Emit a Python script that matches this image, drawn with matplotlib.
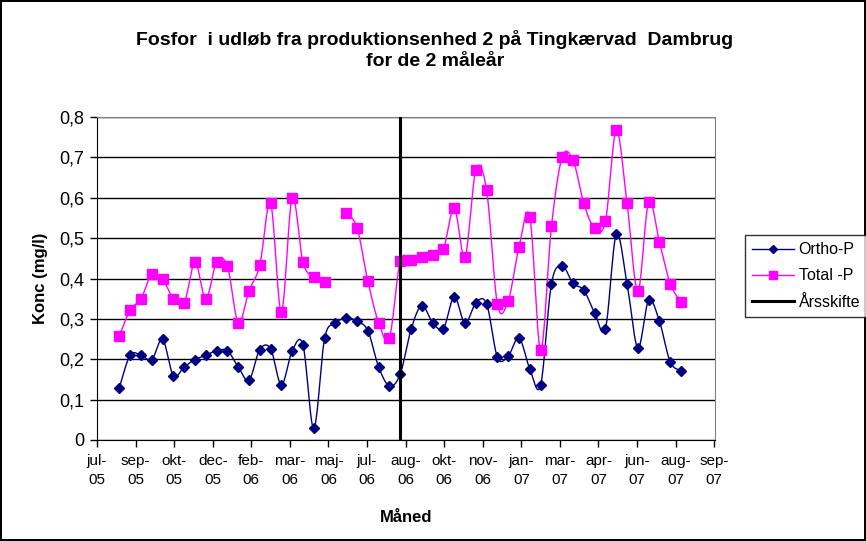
import numpy as np
import pandas as pd
import matplotlib
matplotlib.use('Agg')
import matplotlib.pyplot as plt
import matplotlib.dates as mdates
from matplotlib import font_manager

names = {f.name for f in font_manager.fontManager.ttflist}
narrow = 'Liberation Sans Narrow' if 'Liberation Sans Narrow' in names else 'Liberation Sans'
plt.rcParams['font.family'] = ['Liberation Sans', 'DejaVu Sans']

# prøvetagning hver 14. dag
datoer = pd.date_range('2005-08-15', periods=53, freq='14D')

ortho_p = [0.130, 0.210, 0.210, 0.199, 0.249, 0.159, 0.181, 0.199, 0.210, 0.221,
           0.221, 0.181, 0.148, 0.224, 0.226, 0.137, 0.221, 0.235, 0.029, 0.252,
           0.289, 0.303, 0.294, 0.271, 0.181, 0.134, 0.163,
           0.274, 0.333, 0.291, 0.276, 0.355, 0.289, 0.340, 0.337, 0.205,
           0.208, 0.253, 0.176, 0.136, 0.387, 0.431, 0.388, 0.371, 0.315,
           0.276, 0.509, 0.387, 0.228, 0.346, 0.294, 0.193, 0.172]

total_p = [0.258, 0.322, 0.350, 0.410, 0.398, 0.350, 0.339, 0.440, 0.350, 0.440,
           0.431, 0.291, 0.369, 0.433, 0.586, 0.318, 0.600, 0.440, 0.404, 0.392,
           np.nan, 0.562, 0.526, 0.394, 0.291, 0.253, 0.443,
           0.446, 0.454, 0.458, 0.473, 0.574, 0.454, 0.669, 0.618, 0.336,
           0.345, 0.478, 0.553, 0.223, 0.529, 0.701, 0.693, 0.586, 0.524,
           0.542, 0.767, 0.586, 0.369, 0.590, 0.490, 0.387, 0.342]

aarsskifte = pd.Timestamp('2006-08-14')
x_start = pd.Timestamp('2005-07-17')
x_slut = pd.Timestamp('2007-09-26')
maaneder = ['jan', 'feb', 'mar', 'apr', 'maj', 'jun', 'jul', 'aug', 'sep', 'okt', 'nov', 'dec']


def smooth(x, y, n=20):
    # Excel-agtig udglatning (Catmull-Rom / Bezier)
    x = np.asarray(x, float); y = np.asarray(y, float)
    ok = ~np.isnan(y)
    segs = []
    idx = np.where(ok)[0]
    if len(idx) == 0:
        return segs
    brk = np.where(np.diff(idx) > 1)[0]
    for part in np.split(idx, brk + 1):
        px, py = x[part], y[part]
        if len(px) < 2:
            segs.append((px, py)); continue
        P = np.column_stack([px, py])
        Pp = np.vstack([P[0], P, P[-1]])
        out = [P[0]]
        t = np.linspace(0, 1, n)[1:, None]
        for i in range(len(P) - 1):
            p0, p1, p2, p3 = Pp[i], Pp[i + 1], Pp[i + 2], Pp[i + 3]
            c1 = p1 + (p2 - p0) / 6
            c2 = p2 - (p3 - p1) / 6
            b = ((1 - t) ** 3) * p1 + 3 * ((1 - t) ** 2) * t * c1 + 3 * (1 - t) * t ** 2 * c2 + t ** 3 * p2
            out.extend(b)
        out = np.array(out)
        segs.append((out[:, 0], out[:, 1]))
    return segs


fig = plt.figure(figsize=(8.66, 5.41), dpi=100, linewidth=1.5, edgecolor='black')
ax = fig.add_axes([97 / 866, 1 - 440 / 541, 618 / 866, 323 / 541])

xn = mdates.date2num(datoer)

for serie, farve, mk, ms, navn in [(ortho_p, '#000080', 'D', 5, 'Ortho-P'),
                                   (total_p, '#FF00FF', 's', 6.5, 'Total -P')]:
    for sx, sy in smooth(xn, serie):
        ax.plot(sx, sy, color=farve, lw=1.0, zorder=3)
    ax.plot(xn, serie, ls='none', marker=mk, ms=ms, color=farve, zorder=4)
    ax.plot([], [], color=farve, lw=1.0, marker=mk, ms=ms - 1, label=navn)

xa = mdates.date2num(aarsskifte)
ax.plot([xa, xa], [0, 0.8], color='black', lw=2.2, zorder=5, label='Årsskifte')

x0 = mdates.date2num(x_start)
x1 = mdates.date2num(x_slut)
ax.set_xlim(x0, x1)
ax.set_ylim(0, 0.8)
ax.set_xticks(np.arange(x0, x1 + 1, 50))


def fmt(v, pos):
    d = mdates.num2date(v)
    return '%s-\n%02d' % (maaneder[d.month - 1], d.year % 100)


ax.xaxis.set_major_formatter(plt.FuncFormatter(fmt))
ax.set_yticks(np.arange(0, 0.81, 0.1))
ax.yaxis.set_major_formatter(plt.FuncFormatter(lambda v, p: ('%.1f' % v).replace('.', ',') if v > 0.01 else '0'))
ax.tick_params(axis='y', direction='out', length=5, labelsize=13, width=1, pad=4)
ax.tick_params(axis='x', direction='out', length=5, labelsize=11, width=1, pad=5)
for lab in ax.get_xticklabels():
    lab.set_linespacing(1.45)
ax.grid(axis='y', color='black', lw=1)
ax.set_axisbelow(True)
for s in ['top', 'right']:
    ax.spines[s].set_color('#808080')
for s in ['left', 'bottom']:
    ax.spines[s].set_color('black')

fig.text(0.502, 1 - 50 / 541, 'Fosfor  i udløb fra produktionsenhed 2 på Tingkærvad  Dambrug\nfor de 2 måleår',
         ha='center', va='center', fontsize=14, fontweight='bold', family=narrow, linespacing=1.35)
fig.text(0.047, 1 - 278 / 541, 'Konc (mg/l)', rotation=90, ha='center', va='center',
         fontsize=12, fontweight='bold')
fig.text(406 / 866, 1 - 517 / 541, 'Måned', ha='center', va='center', fontsize=12, fontweight='bold')

leg = ax.legend(loc='center left', bbox_to_anchor=(745 / 866, 1 - 276 / 541), bbox_transform=fig.transFigure,
                frameon=True, fancybox=False, edgecolor='black', fontsize=11.5, handlelength=2.6,
                borderpad=0.45, labelspacing=0.7, handletextpad=0.3, borderaxespad=0)
leg.get_frame().set_linewidth(1)

fig.savefig('out.png', dpi=100)
